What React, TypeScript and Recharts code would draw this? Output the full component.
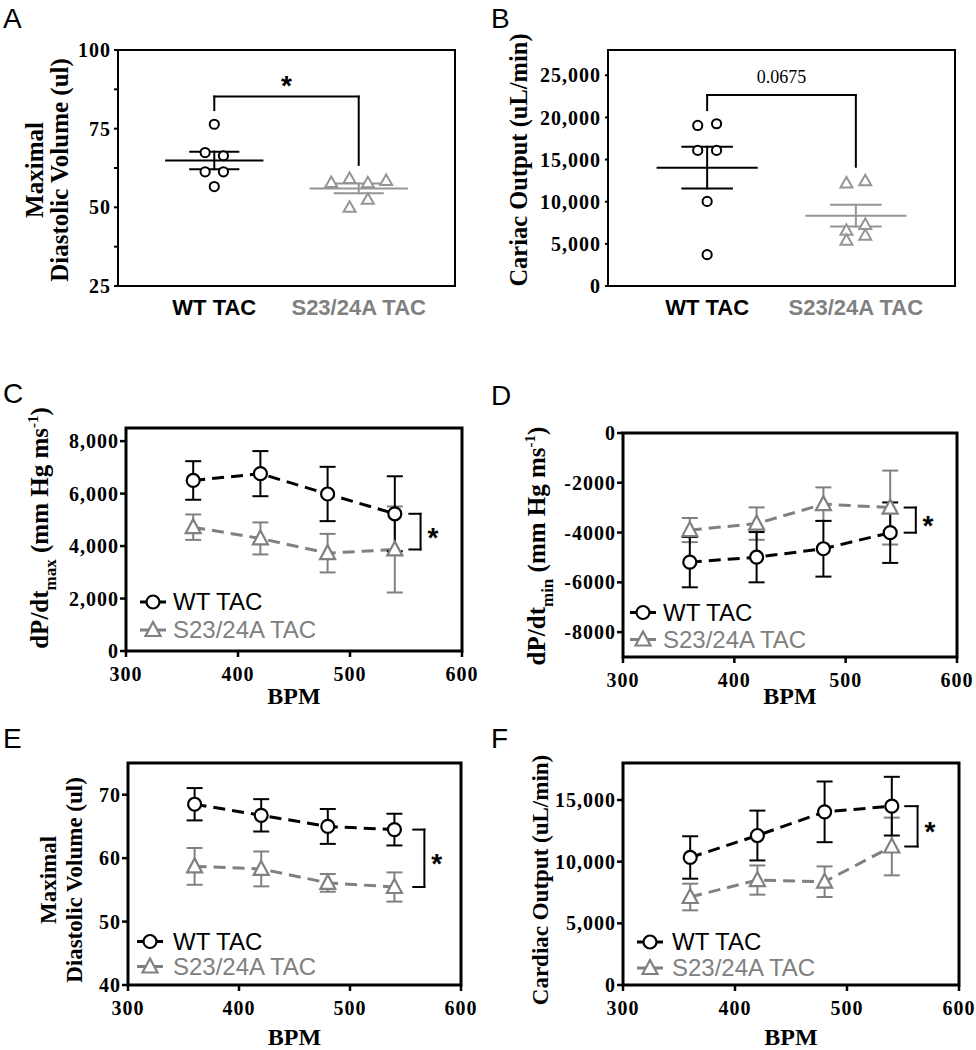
import React from "react";
import {
  ScatterChart,
  Scatter,
  ComposedChart,
  Line,
  XAxis,
  YAxis,
  ErrorBar,
  ReferenceLine,
  ReferenceArea,
  ReferenceDot,
  Legend,
} from "recharts";

const SERIF = "'Liberation Serif', 'Times New Roman', serif";
const SANS = "'Liberation Sans', Arial, sans-serif";
const BLACK = "#000000";
const GRAY = "#808080";
const DOT_GRAY = "#959595";

const GROUPS = ["WT TAC", "S23/24A TAC"];
const GROUP_X = [2, 5];

// A: maximal diastolic volume (ul), one value per mouse
const aWt = [76.4, 67.4, 66.4, 61.3, 61.3, 56.6];
const aWtJitter = [0, -0.5, 0.5, -0.5, 0.5, 0];
const aS23 = [57.9, 59.2, 57.8, 58.5, 52.6, 50.0];
const aS23Jitter = [-1.5, -0.5, 0.5, 1.5, 0.5, -0.5];
const aTicks = [25, 37.5, 50, 62.5, 75, 87.5, 100];

// B: cardiac output (uL/min)
const bWt = [19050, 19250, 16090, 16090, 10040, 3720];
const bWtJitter = [-0.5, 0.5, -0.5, 0.5, 0, 0];
const bS23 = [12210, 12490, 7310, 6600, 6010, 5420];
const bS23Jitter = [-0.5, 0.5, 0.5, -0.5, 0.5, -0.5];
const bTicks = [0, 5000, 10000, 15000, 20000, 25000];

// C-F: mean +/- SEM against heart rate
const bpm = [360, 420, 480, 540];
const bpmTicks = [300, 400, 500, 600];

const cWt = [6500, 6760, 5985, 5230];
const cWtErr = [735, 860, 1035, 1430];
const cS23 = [4720, 4290, 3730, 3870];
const cS23Err = [485, 610, 735, 1640];
const cTicks = [0, 2000, 4000, 6000, 8000];

const dWt = [-5190, -4990, -4650, -4005];
const dWtErr = [1010, 1010, 1120, 1215];
const dS23 = [-3900, -3640, -2860, -2995];
const dS23Err = [485, 650, 675, 1485];
const dTicks = [-8000, -6000, -4000, -2000, 0];

const eWt = [68.5, 66.75, 65.0, 64.5];
const eWtErr = [2.55, 2.55, 2.75, 2.5];
const eS23 = [58.7, 58.3, 56.1, 55.45];
const eS23Err = [2.9, 2.75, 1.4, 2.3];
const eTicks = [40, 50, 60, 70];

const fWt = [10340, 12120, 14040, 14500];
const fWtErr = [1720, 2020, 2460, 2380];
const fS23 = [7135, 8510, 8375, 11230];
const fS23Err = [1080, 1185, 1240, 2340];
const fTicks = [0, 5000, 10000, 15000];

const JITTER = 0.38;
const MEAN_HALF = 1.0;
const SEM_HALF = 0.5;

const mean = (v: number[]) => v.reduce((s, x) => s + x, 0) / v.length;
const sem = (v: number[]) => {
  const m = mean(v);
  const sd = Math.sqrt(v.reduce((s, x) => s + (x - m) ** 2, 0) / (v.length - 1));
  return sd / Math.sqrt(v.length);
};

const comma = (v: number) => v.toLocaleString("en-US");
const plain = (v: number) => String(v);

const SERIF_TICK = { fontFamily: SERIF, fontWeight: 700, fontSize: 20, letterSpacing: 1, fill: BLACK };

function seg(x1: number, y1: number, x2: number, y2: number, color: string, key: string, w = 2) {
  return (
    <ReferenceLine
      key={key}
      segment={[
        { x: x1, y: y1 },
        { x: x2, y: y2 },
      ]}
      stroke={color}
      strokeWidth={w}
      strokeLinecap="square"
      ifOverflow="visible"
    />
  );
}

function meanSem(cx: number, values: number[], color: string, key: string) {
  const m = mean(values);
  const e = sem(values);
  return [
    seg(cx - MEAN_HALF, m, cx + MEAN_HALF, m, color, key + "m"),
    seg(cx - SEM_HALF, m + e, cx + SEM_HALF, m + e, color, key + "h"),
    seg(cx - SEM_HALF, m - e, cx + SEM_HALF, m - e, color, key + "l"),
    seg(cx, m - e, cx, m + e, color, key + "v"),
  ];
}

function triPath(cx: number, cy: number, half: number, up: number, down: number) {
  return `M${cx},${cy - up}L${cx + half},${cy + down}L${cx - half},${cy + down}Z`;
}

function GroupTick({ x, y, payload }: any) {
  const i = GROUP_X.indexOf(payload.value);
  return (
    <text
      x={x}
      y={y + 29}
      textAnchor="middle"
      fontFamily={SANS}
      fontWeight={700}
      fontSize={22}
      fill={i === 0 ? BLACK : GRAY}
    >
      {GROUPS[i]}
    </text>
  );
}

function VTitle({ x, y, size, lines }: { x: number[]; y: number; size: number; lines: React.ReactNode[] }) {
  return (
    <g>
      {lines.map((ln, i) => (
        <text
          key={i}
          x={x[i]}
          y={y}
          transform={`rotate(-90 ${x[i]} ${y})`}
          textAnchor="middle"
          fontFamily={SERIF}
          fontWeight={700}
          fontSize={size}
          fill={BLACK}
        >
          {ln}
        </text>
      ))}
    </g>
  );
}

const dpdt = (sub: string, size: number) => (
  <>
    dP/dt
    <tspan dy={size * 0.3} fontSize={size * 0.68}>
      {sub}
    </tspan>
    <tspan dy={-size * 0.3}> (mm Hg ms</tspan>
    <tspan dy={-size * 0.42} fontSize={size * 0.6}>
      -1
    </tspan>
    <tspan dy={size * 0.42}>)</tspan>
  </>
);

const starShape = (p: any) => (
  <text x={p.cx} y={p.cy + 15} textAnchor="middle" fontFamily={SANS} fontWeight={700} fontSize={28} fill={BLACK}>
    *
  </text>
);

interface DotPanelProps {
  left: number;
  top: number;
  height: number;
  plot: [number, number, number, number];
  domain: [number, number];
  ticks: number[];
  fmt: (v: number) => string;
  tickSize: number;
  tickMargin: number;
  wt: number[];
  wtJitter: number[];
  s23: number[];
  s23Jitter: number[];
  bracket: [number, number, number];
  mark: React.ReactNode;
  title: React.ReactNode;
}

function DotPanel(p: DotPanelProps) {
  const W = 488;
  const [pl, pt, pr, pb] = p.plot;
  const wtPts = p.wt.map((y, i) => ({ x: GROUP_X[0] + p.wtJitter[i] * JITTER, y }));
  const s23Pts = p.s23.map((y, i) => ({ x: GROUP_X[1] + p.s23Jitter[i] * JITTER, y }));
  const [bTop, bWtEnd, bS23End] = p.bracket;
  return (
    <div style={{ position: "absolute", left: p.left, top: p.top }}>
      <ScatterChart width={W} height={p.height} margin={{ top: pt, right: W - pr, bottom: 0, left: 0 }}>
        <XAxis
          type="number"
          dataKey="x"
          domain={[0, 7]}
          ticks={GROUP_X}
          interval={0}
          allowDataOverflow
          height={p.height - pb}
          axisLine={false}
          tickLine={false}
          tickSize={0}
          tickMargin={0}
          tick={<GroupTick />}
        />
        <YAxis
          type="number"
          dataKey="y"
          domain={p.domain}
          ticks={p.ticks}
          interval={0}
          allowDataOverflow
          width={pl}
          axisLine={false}
          tickLine={{ stroke: BLACK, strokeWidth: 2 }}
          tickSize={p.tickSize}
          tickMargin={p.tickMargin}
          tickFormatter={p.fmt}
          tick={SERIF_TICK}
          label={{ content: () => p.title }}
        />
        <ReferenceArea
          x1={0}
          x2={7}
          y1={p.domain[0]}
          y2={p.domain[1]}
          fill="none"
          stroke={BLACK}
          strokeWidth={2}
          ifOverflow="visible"
        />
        {meanSem(GROUP_X[0], p.wt, BLACK, "wt")}
        {meanSem(GROUP_X[1], p.s23, DOT_GRAY, "s23")}
        {seg(GROUP_X[0], bWtEnd, GROUP_X[0], bTop, BLACK, "b1")}
        {seg(GROUP_X[0], bTop, GROUP_X[1], bTop, BLACK, "b2")}
        {seg(GROUP_X[1], bTop, GROUP_X[1], bS23End, BLACK, "b3")}
        {p.mark}
        <Scatter
          data={wtPts}
          isAnimationActive={false}
          shape={(s: any) => <circle cx={s.cx} cy={s.cy} r={4.6} fill="#fff" stroke={BLACK} strokeWidth={2} />}
        />
        <Scatter
          data={s23Pts}
          isAnimationActive={false}
          shape={(s: any) => (
            <path d={triPath(s.cx, s.cy, 6, 6, 4.5)} fill="#fff" stroke={DOT_GRAY} strokeWidth={2} />
          )}
        />
      </ScatterChart>
    </div>
  );
}

const SERIES = [
  { name: "WT TAC", color: BLACK, shape: "circle" },
  { name: "S23/24A TAC", color: GRAY, shape: "triangle" },
];

function LegendBox({ row, gap }: { row: number; gap: number }) {
  return (
    <div style={{ fontFamily: SANS, fontSize: 24 }}>
      {SERIES.map((s) => (
        <div key={s.name} style={{ display: "flex", alignItems: "center", height: row, color: s.color }}>
          <svg width={30} height={row} style={{ display: "block" }}>
            <line x1={2} x2={28} y1={row / 2} y2={row / 2} stroke={s.color} strokeWidth={3} />
            {s.shape === "circle" ? (
              <circle cx={15} cy={row / 2} r={6.5} fill="#fff" stroke={s.color} strokeWidth={2.2} />
            ) : (
              <path d={triPath(15, row / 2, 7.5, 8, 6)} fill="#fff" stroke={s.color} strokeWidth={2.2} />
            )}
          </svg>
          <span style={{ marginLeft: gap, lineHeight: 1 }}>{s.name}</span>
        </div>
      ))}
    </div>
  );
}

interface LinePanelProps {
  left: number;
  top: number;
  height: number;
  plot: [number, number, number, number];
  domain: [number, number];
  ticks: number[];
  fmt: (v: number) => string;
  wt: number[];
  wtErr: number[];
  s23: number[];
  s23Err: number[];
  bracketX: [number, number];
  legend: { left: number; top: number; row: number; gap: number };
  title: React.ReactNode;
  xTitleY: number;
}

function LinePanel(p: LinePanelProps) {
  const W = 488;
  const [pl, pt, pr, pb] = p.plot;
  const data = bpm.map((b, i) => ({
    bpm: b,
    wt: p.wt[i],
    wtErr: p.wtErr[i],
    s23: p.s23[i],
    s23Err: p.s23Err[i],
  }));
  const last = bpm.length - 1;
  const [bx0, bx1] = p.bracketX;
  return (
    <div style={{ position: "absolute", left: p.left, top: p.top }}>
      <ComposedChart width={W} height={p.height} data={data} margin={{ top: pt, right: W - pr, bottom: 0, left: 0 }}>
        <XAxis
          type="number"
          dataKey="bpm"
          domain={[300, 600]}
          ticks={bpmTicks}
          interval={0}
          allowDataOverflow
          height={p.height - pb}
          axisLine={false}
          tickLine={{ stroke: BLACK, strokeWidth: 2.5 }}
          tickSize={6}
          tickMargin={10}
          tick={SERIF_TICK}
          label={{
            content: () => (
              <text
                x={(pl + pr) / 2}
                y={p.xTitleY}
                textAnchor="middle"
                fontFamily={SERIF}
                fontWeight={700}
                fontSize={24}
                fill={BLACK}
              >
                BPM
              </text>
            ),
          }}
        />
        <YAxis
          type="number"
          domain={p.domain}
          ticks={p.ticks}
          interval={0}
          allowDataOverflow
          width={pl}
          axisLine={false}
          tickLine={{ stroke: BLACK, strokeWidth: 2.5 }}
          tickSize={6}
          tickMargin={1}
          tickFormatter={p.fmt}
          tick={SERIF_TICK}
          label={{ content: () => p.title }}
        />
        <ReferenceArea
          x1={300}
          x2={600}
          y1={p.domain[0]}
          y2={p.domain[1]}
          fill="none"
          stroke={BLACK}
          strokeWidth={3}
          ifOverflow="visible"
        />
        {seg(bx0, p.wt[last], bx1, p.wt[last], BLACK, "k1")}
        {seg(bx1, p.wt[last], bx1, p.s23[last], BLACK, "k2")}
        {seg(bx0, p.s23[last], bx1, p.s23[last], BLACK, "k3")}
        <ReferenceDot
          x={bx1 + 11}
          y={(p.wt[last] + p.s23[last]) / 2}
          r={0}
          ifOverflow="visible"
          shape={starShape}
        />
        <Legend
          layout="vertical"
          align="center"
          verticalAlign="middle"
          wrapperStyle={{ left: p.legend.left, top: p.legend.top, width: "auto" }}
          content={() => <LegendBox row={p.legend.row} gap={p.legend.gap} />}
        />
        <Line
          type="linear"
          dataKey="s23"
          name="S23/24A TAC"
          stroke={GRAY}
          strokeWidth={3}
          strokeDasharray="12 7"
          isAnimationActive={false}
          activeDot={false}
          dot={(d: any) => (
            <path key={`s${d.index}`} d={triPath(d.cx, d.cy, 7.5, 8, 6)} fill="#fff" stroke={GRAY} strokeWidth={2.2} />
          )}
        >
          <ErrorBar dataKey="s23Err" direction="y" width={8} stroke={GRAY} strokeWidth={2} isAnimationActive={false} />
        </Line>
        <Line
          type="linear"
          dataKey="wt"
          name="WT TAC"
          stroke={BLACK}
          strokeWidth={3}
          strokeDasharray="12 7"
          isAnimationActive={false}
          activeDot={false}
          dot={(d: any) => (
            <circle key={`w${d.index}`} cx={d.cx} cy={d.cy} r={6.5} fill="#fff" stroke={BLACK} strokeWidth={2.2} />
          )}
        >
          <ErrorBar dataKey="wtErr" direction="y" width={8} stroke={BLACK} strokeWidth={2} isAnimationActive={false} />
        </Line>
      </ComposedChart>
    </div>
  );
}

const LETTERS = [
  { t: "A", x: 3, y: 28 },
  { t: "B", x: 491, y: 28 },
  { t: "C", x: 3, y: 403 },
  { t: "D", x: 491, y: 405 },
  { t: "E", x: 3, y: 748 },
  { t: "F", x: 491, y: 748 },
];

export default function App() {
  return (
    <div style={{ position: "absolute", left: 0, top: 0, width: 976, height: 1050, background: "#fff" }}>
      <DotPanel
        left={0}
        top={0}
        height={330}
        plot={[118, 50, 455, 286]}
        domain={[25, 100]}
        ticks={aTicks}
        fmt={(v) => (v % 25 === 0 ? plain(v) : "")}
        tickSize={4}
        tickMargin={3}
        wt={aWt}
        wtJitter={aWtJitter}
        s23={aS23}
        s23Jitter={aS23Jitter}
        bracket={[85.2, 80.9, 63.5]}
        mark={<ReferenceDot x={3.5} y={90.5} r={0} ifOverflow="visible" shape={starShape} />}
        title={<VTitle x={[43, 68]} y={170} size={25} lines={["Maximal", "Diastolic Volume (ul)"]} />}
      />
      <DotPanel
        left={488}
        top={0}
        height={330}
        plot={[120, 50, 467, 286]}
        domain={[0, 28000]}
        ticks={bTicks}
        fmt={comma}
        tickSize={3}
        tickMargin={4}
        wt={bWt}
        wtJitter={bWtJitter}
        s23={bS23}
        s23Jitter={bS23Jitter}
        bracket={[22650, 20870, 14150]}
        mark={
          <ReferenceDot
            x={3.5}
            y={24085}
            r={0}
            ifOverflow="visible"
            shape={(s: any) => (
              <text x={s.cx} y={s.cy} textAnchor="middle" fontFamily={SERIF} fontSize={18} fill={BLACK}>
                0.0675
              </text>
            )}
          />
        }
        title={<VTitle x={[39]} y={160} size={24.5} lines={["Cariac Output (uL/min)"]} />}
      />
      <LinePanel
        left={0}
        top={370}
        height={345}
        plot={[126, 58, 462, 281]}
        domain={[0, 8500]}
        ticks={cTicks}
        fmt={comma}
        wt={cWt}
        wtErr={cWtErr}
        s23={cS23}
        s23Err={cS23Err}
        bracketX={[553, 563]}
        legend={{ left: 138, top: 218, row: 28, gap: 5 }}
        title={<VTitle x={[48]} y={158} size={25} lines={[dpdt("max", 25)]} />}
        xTitleY={334}
      />
      <LinePanel
        left={488}
        top={370}
        height={345}
        plot={[135, 63, 469, 287]}
        domain={[-9000, 0]}
        ticks={dTicks}
        fmt={plain}
        wt={dWt}
        wtErr={dWtErr}
        s23={dS23}
        s23Err={dS23Err}
        bracketX={[553, 563]}
        legend={{ left: 140, top: 229, row: 27, gap: 5 }}
        title={<VTitle x={[57]} y={176} size={25} lines={[dpdt("min", 25)]} />}
        xTitleY={334}
      />
      <LinePanel
        left={0}
        top={700}
        height={350}
        plot={[128, 63, 461, 285]}
        domain={[40, 75]}
        ticks={eTicks}
        fmt={plain}
        wt={eWt}
        wtErr={eWtErr}
        s23={eS23}
        s23Err={eS23Err}
        bracketX={[557, 567]}
        legend={{ left: 135, top: 229, row: 25, gap: 8 }}
        title={<VTitle x={[56, 82]} y={180} size={23} lines={["Maximal", "Diastolic Volume (ul)"]} />}
        xTitleY={345}
      />
      <LinePanel
        left={488}
        top={700}
        height={350}
        plot={[135, 63, 471, 285]}
        domain={[0, 18000]}
        ticks={fTicks}
        fmt={comma}
        wt={fWt}
        wtErr={fWtErr}
        s23={fS23}
        s23Err={fS23Err}
        bracketX={[552, 563]}
        legend={{ left: 147, top: 229, row: 26, gap: 7 }}
        title={<VTitle x={[60]} y={180} size={23} lines={["Cardiac Output (uL/min)"]} />}
        xTitleY={345}
      />
      <svg width={976} height={1050} style={{ position: "absolute", left: 0, top: 0, pointerEvents: "none" }}>
        {LETTERS.map((l) => (
          <text key={l.t} x={l.x} y={l.y} fontFamily={SANS} fontSize={28} fill={BLACK}>
            {l.t}
          </text>
        ))}
      </svg>
    </div>
  );
}
